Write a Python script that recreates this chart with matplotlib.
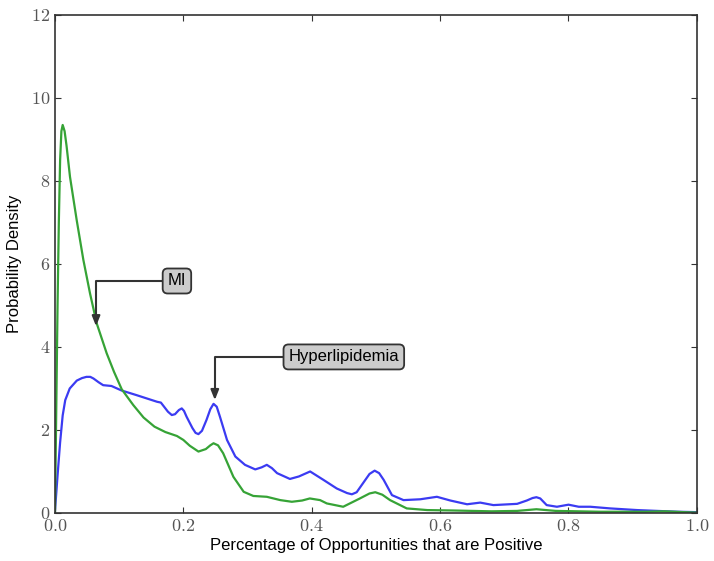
import matplotlib
matplotlib.use("Agg")
import matplotlib.pyplot as plt
from matplotlib.ticker import FuncFormatter

plt.rcParams["mathtext.fontset"] = "cm"
plt.rcParams["font.family"] = ["Liberation Sans", "DejaVu Sans"]

# blue curve (Hyperlipidemia)
blue_x = [0.0, 0.004, 0.008, 0.012, 0.016, 0.023, 0.034, 0.042, 0.049, 0.055,
          0.06, 0.068, 0.075, 0.088, 0.104, 0.127, 0.143, 0.159, 0.165, 0.169,
          0.176, 0.182, 0.187, 0.193, 0.1975, 0.201, 0.205, 0.214, 0.219, 0.2235,
          0.229, 0.236, 0.242, 0.247, 0.252, 0.257, 0.268, 0.281, 0.296, 0.312,
          0.322, 0.33, 0.338, 0.346, 0.366, 0.38, 0.3975, 0.418, 0.439, 0.455,
          0.4625, 0.47, 0.48, 0.49, 0.498, 0.505, 0.512, 0.525, 0.543, 0.569,
          0.595, 0.616, 0.642, 0.6625, 0.683, 0.72, 0.735, 0.744, 0.75, 0.756,
          0.766, 0.782, 0.80, 0.816, 0.834, 0.865, 0.907, 0.938, 0.97, 1.0]
blue_y = [0.05, 0.9, 1.7, 2.35, 2.72, 3.0, 3.19, 3.25, 3.28, 3.28,
          3.24, 3.15, 3.08, 3.06, 2.95, 2.84, 2.76, 2.68, 2.66, 2.58,
          2.44, 2.36, 2.38, 2.48, 2.52, 2.46, 2.32, 2.05, 1.93, 1.9,
          1.98, 2.24, 2.5, 2.63, 2.56, 2.32, 1.76, 1.36, 1.16, 1.05,
          1.1, 1.16, 1.08, 0.96, 0.82, 0.88, 1.0, 0.8, 0.59, 0.48,
          0.45, 0.5, 0.72, 0.94, 1.02, 0.96, 0.8, 0.43, 0.31, 0.33,
          0.39, 0.3, 0.21, 0.25, 0.19, 0.22, 0.3, 0.36, 0.38, 0.35,
          0.19, 0.15, 0.2, 0.15, 0.15, 0.11, 0.07, 0.05, 0.03, 0.02]

# green curve (MI)
green_x = [0.0, 0.002, 0.004, 0.006, 0.008, 0.010, 0.012, 0.015, 0.018, 0.0234,
           0.0338, 0.0442, 0.0546, 0.065, 0.0805, 0.092, 0.104, 0.122, 0.138,
           0.155, 0.172, 0.19, 0.2, 0.21, 0.2235, 0.235, 0.242, 0.247, 0.254,
           0.262, 0.278, 0.294, 0.309, 0.33, 0.351, 0.369, 0.385, 0.397, 0.413,
           0.4235, 0.449, 0.475, 0.49, 0.499, 0.51, 0.522, 0.548, 0.58, 0.62,
           0.68, 0.72, 0.75, 0.78, 0.85, 0.92, 0.95, 0.98, 1.0]
green_y = [0.0, 2.5, 5.0, 7.0, 8.5, 9.2, 9.35, 9.2, 8.85, 8.1,
           7.06, 6.1, 5.29, 4.57, 3.85, 3.4, 2.98, 2.6, 2.3,
           2.08, 1.95, 1.855, 1.76, 1.62, 1.48, 1.54, 1.63, 1.68, 1.63,
           1.44, 0.87, 0.51, 0.41, 0.39, 0.31, 0.27, 0.3, 0.35, 0.31,
           0.23, 0.15, 0.35, 0.47, 0.5, 0.44, 0.31, 0.11, 0.07, 0.06,
           0.04, 0.05, 0.09, 0.05, 0.03, 0.03, 0.04, 0.02, 0.01]

x_ticks = [0.0, 0.2, 0.4, 0.6, 0.8, 1.0]
y_ticks = [0, 2, 4, 6, 8, 10, 12]

fig = plt.figure(figsize=(7.14, 5.61), dpi=100)
ax = fig.add_axes([0.077, 0.0856, 0.899, 0.8877])

ax.plot(blue_x, blue_y, color="#3b3bf2", lw=1.6)
ax.plot(green_x, green_y, color="#36a336", lw=1.6)

ax.set_xlim(0, 1)
ax.set_ylim(0, 12)
ax.set_xticks(x_ticks)
ax.set_yticks(y_ticks)
ax.xaxis.set_major_formatter(FuncFormatter(lambda v, p: rf"${v:.1f}$"))
ax.yaxis.set_major_formatter(FuncFormatter(lambda v, p: rf"${v:.0f}$"))
ax.tick_params(direction="in", top=True, right=True, length=4, width=0.8,
               labelsize=13, colors="#333333", labelcolor="#555555")
for s in ax.spines.values():
    s.set_color("#333333")
    s.set_linewidth(1.2)

ax.set_xlabel("Percentage of Opportunities that are Positive", fontsize=12, labelpad=2)
ax.set_ylabel("Probability Density", fontsize=12, labelpad=6)

box = dict(boxstyle="round,pad=0.3", fc="#cccccc", ec="#333333", lw=1.3)
arrow = dict(arrowstyle="-|>,head_length=0.5,head_width=0.2", color="#333333", lw=1.5,
             connectionstyle="angle,angleA=0,angleB=90,rad=0", shrinkA=0, shrinkB=0)
ax.annotate("MI", xy=(0.064, 4.5), xytext=(0.19, 5.59), fontsize=12,
            ha="center", va="center", bbox=box, arrowprops=arrow)
ax.annotate("Hyperlipidemia", xy=(0.249, 2.72), xytext=(0.45, 3.76), fontsize=12,
            ha="center", va="center", bbox=box, arrowprops=arrow)

fig.savefig("out.png", dpi=100)
